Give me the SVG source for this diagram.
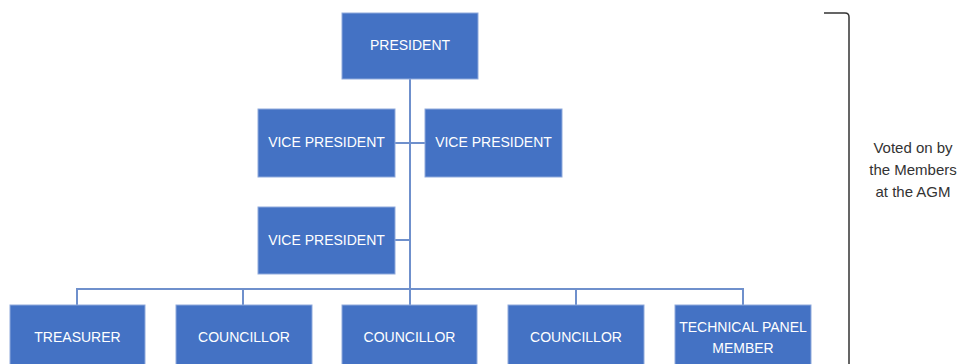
<svg xmlns="http://www.w3.org/2000/svg" width="961" height="364" viewBox="0 0 961 364">
<style>
.box{fill:#4472C4;stroke:#8FAADC;stroke-width:1}
.lbl{font-family:"Liberation Sans",Arial,sans-serif;font-size:14px;fill:#ffffff;text-anchor:middle;dominant-baseline:central}
.conn{stroke:#6F90CC;stroke-width:2;fill:none}
.note{font-family:"Liberation Sans",Arial,sans-serif;font-size:15px;fill:#333333;text-anchor:middle}
</style>
<rect width="961" height="364" fill="#ffffff"/>
<g id="connectors">
<path class="conn" d="M410 79 V305"/>
<path class="conn" d="M395 143 H425"/>
<path class="conn" d="M395 240 H410"/>
<path class="conn" d="M77 305 V289 H743 V305"/>
<path class="conn" d="M243 289 V305 M576 289 V305"/>
</g>
<g id="president"><rect class="box" x="342" y="13" width="136" height="66"/><text class="lbl" x="410" y="45">PRESIDENT</text></g>
<g id="vp1"><rect class="box" x="258" y="109" width="137" height="68"/><text class="lbl" x="326.5" y="142">VICE PRESIDENT</text></g>
<g id="vp2"><rect class="box" x="425" y="109" width="137" height="68"/><text class="lbl" x="493.5" y="142">VICE PRESIDENT</text></g>
<g id="vp3"><rect class="box" x="258" y="207" width="137" height="67"/><text class="lbl" x="326.5" y="240">VICE PRESIDENT</text></g>
<g id="treasurer"><rect class="box" x="10" y="305" width="135" height="65"/><text class="lbl" x="77.5" y="337">TREASURER</text></g>
<g id="councillor1"><rect class="box" x="176" y="305" width="136" height="65"/><text class="lbl" x="244" y="337">COUNCILLOR</text></g>
<g id="councillor2"><rect class="box" x="342" y="305" width="135" height="65"/><text class="lbl" x="409.5" y="337">COUNCILLOR</text></g>
<g id="councillor3"><rect class="box" x="508" y="305" width="136" height="65"/><text class="lbl" x="576" y="337">COUNCILLOR</text></g>
<g id="technical"><rect class="box" x="675" y="305" width="136" height="65"/><text class="lbl" x="743" y="327">TECHNICAL PANEL</text><text class="lbl" x="743" y="348">MEMBER</text></g>
<g id="bracket">
<path d="M824 13 H845 Q849 13 849 17 V364" stroke="#333333" stroke-width="1.5" fill="none"/>
<text class="note" x="913" y="153">Voted on by</text>
<text class="note" x="913" y="175">the Members</text>
<text class="note" x="913" y="197">at the AGM</text>
</g>
</svg>
